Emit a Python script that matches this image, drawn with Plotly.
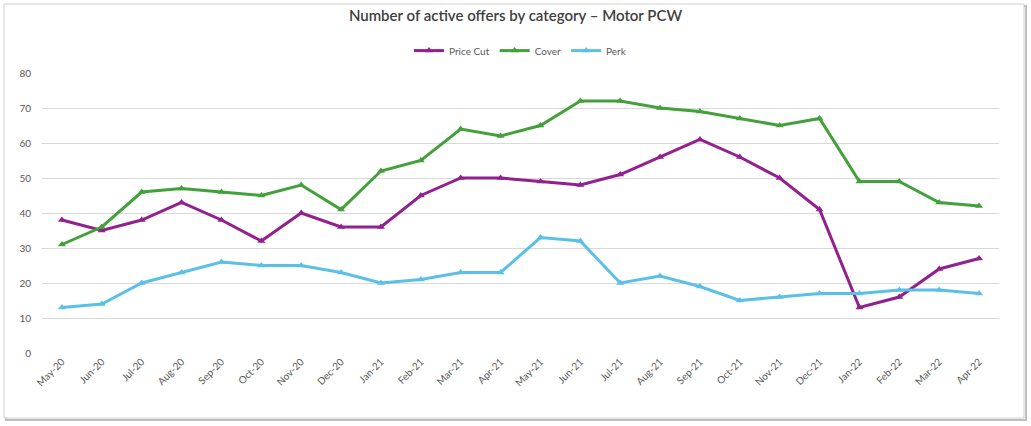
import plotly.graph_objects as go

months = ["May-20","Jun-20","Jul-20","Aug-20","Sep-20","Oct-20","Nov-20","Dec-20",
          "Jan-21","Feb-21","Mar-21","Apr-21","May-21","Jun-21","Jul-21","Aug-21",
          "Sep-21","Oct-21","Nov-21","Dec-21","Jan-22","Feb-22","Mar-22","Apr-22"]
price_cut = [38, 35, 38, 43, 38, 32, 40, 36, 36, 45, 50, 50, 49, 48, 51, 56, 61, 56, 50, 41, 13, 16, 24, 27]
cover = [31, 36, 46, 47, 46, 45, 48, 41, 52, 55, 64, 62, 65, 72, 72, 70, 69, 67, 65, 67, 49, 49, 43, 42]
perk = [13, 14, 20, 23, 26, 25, 25, 23, 20, 21, 23, 23, 33, 32, 20, 22, 19, 15, 16, 17, 17, 18, 18, 17]

series = [("Price Cut", price_cut, "#92208f"), ("Cover", cover, "#43a03a"), ("Perk", perk, "#5bc0e6")]

fig = go.Figure()
for name, vals, col in series:
    fig.add_trace(go.Scatter(x=months, y=vals, name=name, mode="lines+markers",
                             line=dict(color=col, width=3),
                             marker=dict(symbol="triangle-up", size=7, color=col)))

fig.update_layout(
    width=1031, height=426,
    margin=dict(l=42, r=32, t=73, b=73, autoexpand=False),
    paper_bgcolor="white", plot_bgcolor="white",
    font=dict(family="Lato", color="#595959", size=10),
    title=dict(text="Number of active offers by category – Motor PCW",
               x=0.5, xanchor="center", y=0.962, yanchor="middle", automargin=False,
               font=dict(size=15, color="#404040", family="Lato", weight=600)),
    legend=dict(orientation="h", x=0.5, xanchor="center", y=1.08, yanchor="middle",
                font=dict(size=10, color="#595959"), itemwidth=30, tracegroupgap=0),
    showlegend=True,
)
fig.update_xaxes(type="category", tickangle=-45, showgrid=False, showline=False,
                 range=[-0.5, len(months) - 0.5],
                 ticks="", automargin=False, tickfont=dict(size=10, color="#595959"))
fig.update_yaxes(range=[0, 80], dtick=10, showgrid=True, gridcolor="#d9d9d9", gridwidth=1,
                 zeroline=False, showline=False, ticks="", ticklabelstandoff=10,
                 automargin=False, tickfont=dict(size=10, color="#595959"))

# chart area border with shadow
fig.add_shape(type="rect", xref="paper", yref="paper",
              x0=(6 - 42) / 957, x1=(1026 - 42) / 957,
              y0=(353 - 420) / 280, y1=(353 - 6) / 280,
              line=dict(color="#bfbfbf", width=2), fillcolor="rgba(0,0,0,0)", layer="below")
fig.add_shape(type="rect", xref="paper", yref="paper",
              x0=(4 - 42) / 957, x1=(1024 - 42) / 957,
              y0=(353 - 418) / 280, y1=(353 - 4) / 280,
              line=dict(color="#d0d0d0", width=1), fillcolor="white", layer="below")

fig.write_html("out.html", config={"displayModeBar": False},
               post_script="document.body.style.margin='0';document.body.style.overflow='hidden';")
